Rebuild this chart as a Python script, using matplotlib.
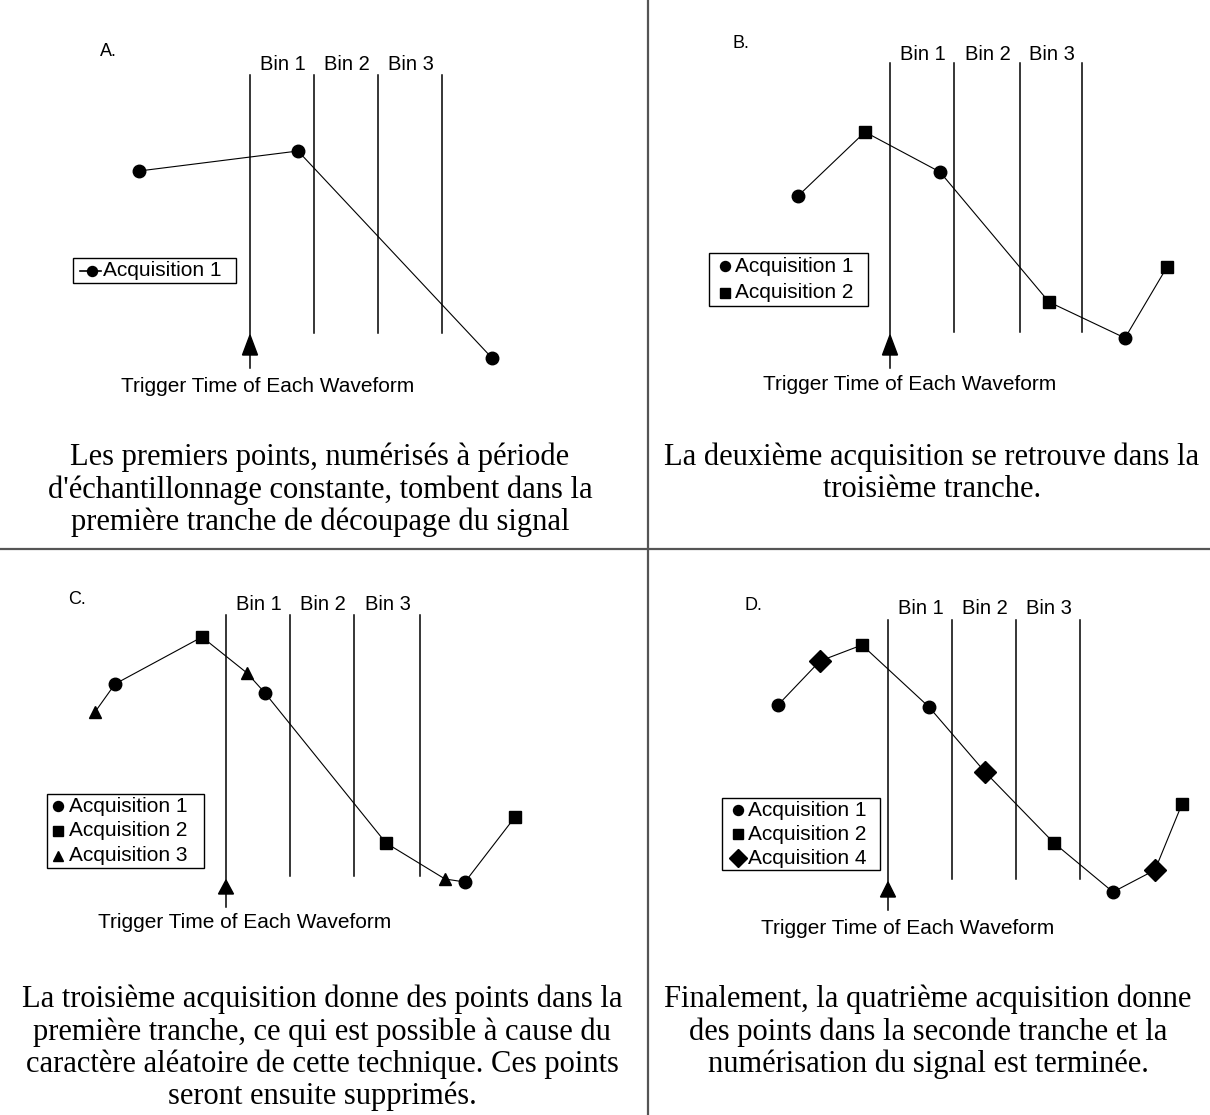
import matplotlib
matplotlib.use("Agg")
import matplotlib.pyplot as plt
from matplotlib.patches import Rectangle

# Equivalent-time sampling: 4 panels, each showing acquisitions falling into bins.
# Coordinates are in drawing units (x = time, y = level, y grows downwards).

panel_letters = ["A.", "B.", "C.", "D."]
letter_x = [100, 733, 68, 745]
letter_y = [52, 43, 600, 605]

# bin boundaries (first one is the trigger time)
bin_edges = [[250, 314, 378, 442],
             [890, 954, 1020, 1082],
             [226, 290, 354, 420],
             [888, 952, 1016, 1080]]
bin_top = [75, 63, 615, 620]
bin_bottom = [333, 332, 876, 879]
bin_label_y = [65, 55, 605, 609]
bin_labels = ["Bin 1", "Bin 2", "Bin 3"]

# trigger arrow: tip, base, stem end
trig_tip = [335, 335, 880, 882]
trig_base = [355, 355, 894, 897]
trig_stem = [368, 368, 907, 910]
trig_text_x = [268, 910, 245, 908]
trig_text_y = [386, 385, 923, 928]
trig_text = "Trigger Time of Each Waveform"

# acquisitions per panel: (x, y)
acq1_a_x = [139, 298, 492]
acq1_a_y = [171, 151, 358]

acq1_b_x = [798, 940, 1125]
acq1_b_y = [196, 172, 338]
acq2_b_x = [865, 1049, 1167]
acq2_b_y = [132, 302, 267]

acq1_c_x = [115, 265, 465]
acq1_c_y = [684, 693, 882]
acq2_c_x = [202, 386, 515]
acq2_c_y = [637, 843, 817]
acq3_c_x = [95, 247, 445]
acq3_c_y = [712, 673, 879]

acq1_d_x = [778, 929, 1113]
acq1_d_y = [705, 707, 892]
acq2_d_x = [862, 1054, 1182]
acq2_d_y = [645, 843, 804]
acq4_d_x = [820, 985, 1155]
acq4_d_y = [661, 772, 870]

captions = [
    "Les premiers points, numérisés à période\n"
    "d'échantillonnage constante, tombent dans la\n"
    "première tranche de découpage du signal",
    "La deuxième acquisition se retrouve dans la\n"
    "troisième tranche.",
    "La troisième acquisition donne des points dans la\n"
    "première tranche, ce qui est possible à cause du\n"
    "caractère aléatoire de cette technique. Ces points\n"
    "seront ensuite supprimés.",
    "Finalement, la quatrième acquisition donne\n"
    "des points dans la seconde tranche et la\n"
    "numérisation du signal est terminée.",
]
caption_x = [320, 932, 322, 928]
caption_y = [443, 443, 985, 985]

# legend boxes: x0, y0, x1, y1, marker offset, text offset
legend_box = [(73, 258, 236, 283, 19, 30), (709, 253, 868, 306, 16, 26),
              (47, 794, 204, 868, 11, 22), (722, 798, 880, 870, 16, 26)]

marker_style = {
    "Acquisition 1": dict(marker="o", ms=9),
    "Acquisition 2": dict(marker="s", ms=8.5),
    "Acquisition 3": dict(marker="^", ms=8.5),
    "Acquisition 4": dict(marker="D", ms=11),
}

panels = [
    [("Acquisition 1", acq1_a_x, acq1_a_y)],
    [("Acquisition 1", acq1_b_x, acq1_b_y),
     ("Acquisition 2", acq2_b_x, acq2_b_y)],
    [("Acquisition 1", acq1_c_x, acq1_c_y),
     ("Acquisition 2", acq2_c_x, acq2_c_y),
     ("Acquisition 3", acq3_c_x, acq3_c_y)],
    [("Acquisition 1", acq1_d_x, acq1_d_y),
     ("Acquisition 2", acq2_d_x, acq2_d_y),
     ("Acquisition 4", acq4_d_x, acq4_d_y)],
]

sans = "Liberation Sans"
serif = "Liberation Serif"

fig = plt.figure(figsize=(12.1, 11.15), dpi=100)
ax = fig.add_axes([0, 0, 1, 1])
ax.set_xlim(0, 1210)
ax.set_ylim(1115, 0)
ax.axis("off")

# quadrant separators
ax.plot([648, 648], [0, 1115], color="#555555", lw=1.6)
ax.plot([0, 1210], [549, 549], color="#555555", lw=1.6)

for i, series in enumerate(panels):
    ax.text(letter_x[i], letter_y[i], panel_letters[i], family=sans,
            fontsize=13, ha="left", va="center")

    edges = bin_edges[i]
    for k, xe in enumerate(edges):
        bottom = trig_tip[i] if k == 0 else bin_bottom[i]
        ax.plot([xe, xe], [bin_top[i], bottom], color="black", lw=1.1)
    for k, lab in enumerate(bin_labels):
        ax.text((edges[k] + edges[k + 1]) / 2 + 1, bin_label_y[i], lab,
                family=sans, fontsize=14.5, ha="center", va="center")

    # trigger arrow
    xt = edges[0]
    ax.plot([xt, xt], [trig_base[i], trig_stem[i]], color="black", lw=1.1)
    ax.fill([xt - 7.5, xt, xt + 7.5], [trig_base[i], trig_tip[i], trig_base[i]],
            color="black")
    ax.text(trig_text_x[i], trig_text_y[i], trig_text, family=sans,
            fontsize=15, ha="center", va="center")

    # waveform trace through all samples in time order
    pts = sorted((x, y) for _, xs, ys in series for x, y in zip(xs, ys))
    ax.plot([p[0] for p in pts], [p[1] for p in pts], color="black", lw=0.8,
            zorder=2)
    for name, xs, ys in series:
        ax.plot(xs, ys, linestyle="none", color="black", zorder=3,
                **marker_style[name])

    # legend box
    x0, y0, x1, y1, mdx, tdx = legend_box[i]
    ax.add_patch(Rectangle((x0, y0), x1 - x0, y1 - y0, fill=False,
                           edgecolor="black", lw=1.0))
    row_h = (y1 - y0) / len(series)
    for r, (name, _, _) in enumerate(series):
        yc = y0 + row_h * (r + 0.5)
        if len(series) == 1:
            ax.plot([x0 + 7, x0 + tdx - 2], [yc, yc], color="black", lw=1.2)
        st = dict(marker_style[name])
        st["ms"] = st["ms"] * 0.8
        ax.plot([x0 + mdx], [yc], linestyle="none", color="black", **st)
        ax.text(x0 + tdx, yc, name, family=sans, fontsize=15, ha="left",
                va="center")

    ax.text(caption_x[i], caption_y[i], captions[i], family=serif,
            fontsize=22, ha="center", va="top", linespacing=1.12)

fig.savefig("out.png", dpi=100, facecolor="white")
